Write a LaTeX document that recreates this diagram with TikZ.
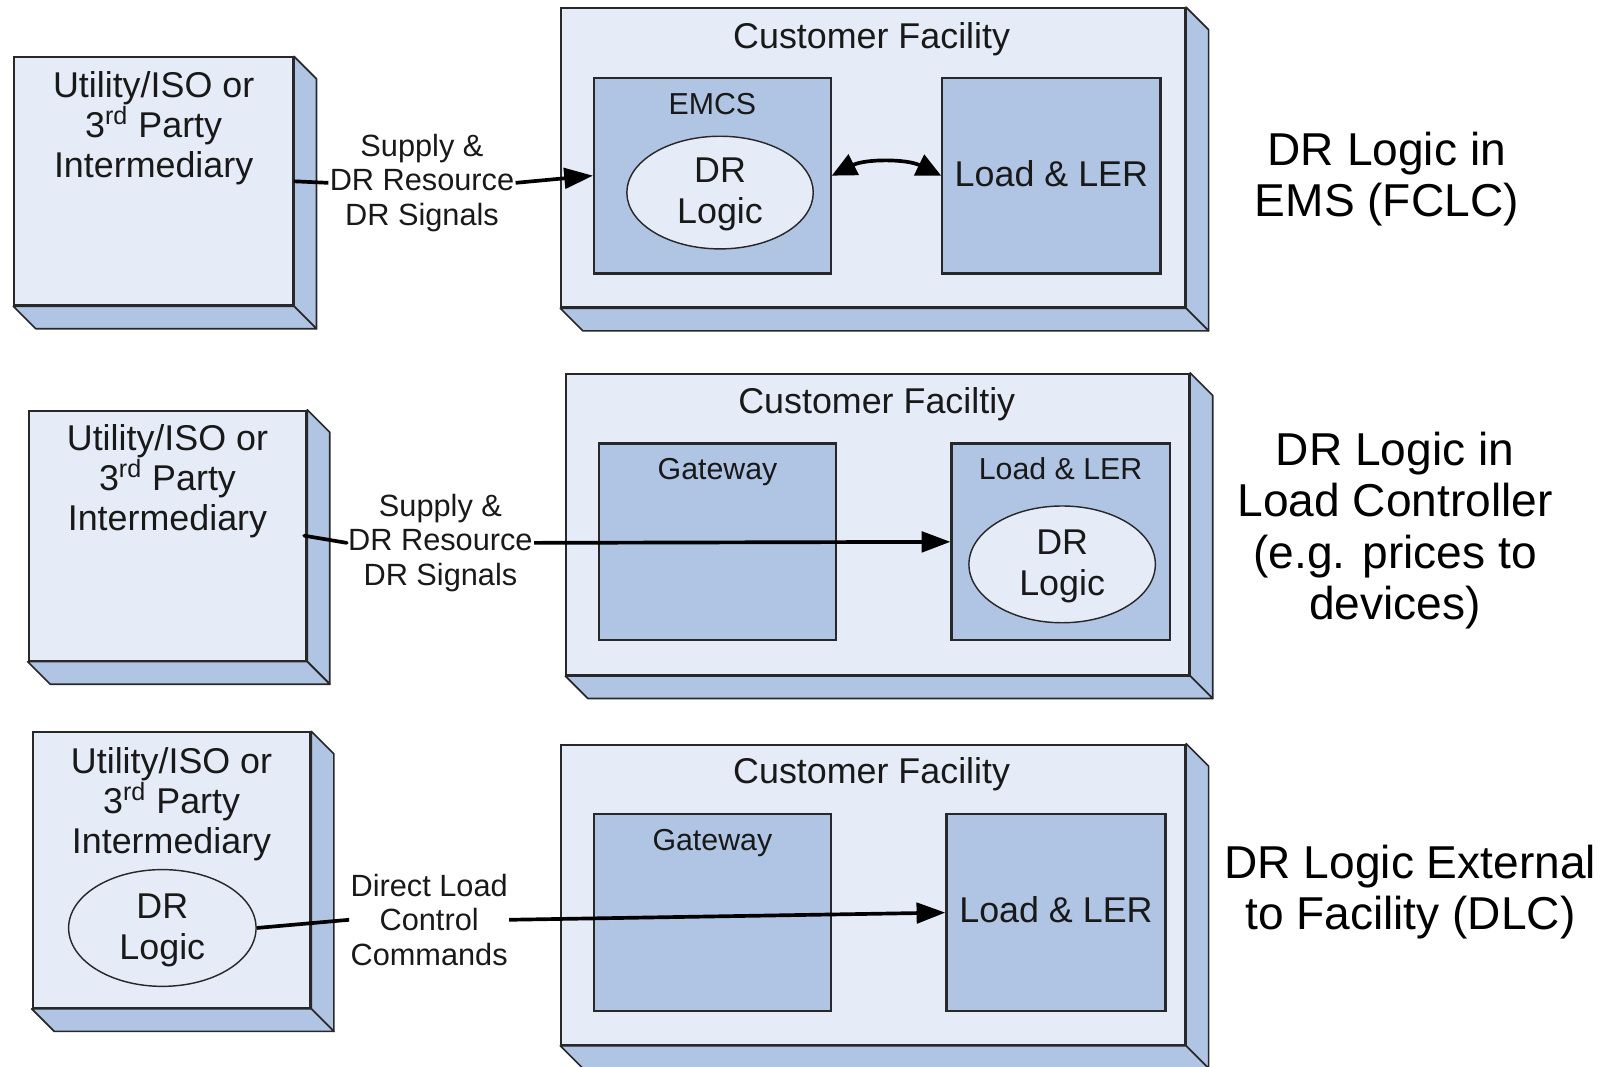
\documentclass[tikz,border=0pt]{standalone}
\usepackage{fontspec}
\setmainfont{Liberation Sans}
\usetikzlibrary{arrows.meta,fit,shapes.geometric}
\definecolor{facelight}{RGB}{230,236,247}
\definecolor{facedark}{RGB}{176,196,227}
\definecolor{edgecol}{RGB}{40,40,40}
\definecolor{txtcol}{RGB}{25,25,25}
\newcommand\drawdepth[1]{%
  \filldraw[depthface] (#1.north east) -- ++(22,22) -- ([shift={(22,22)}]#1.south east) -- (#1.south east) -- cycle;
  \filldraw[depthface] (#1.south west) -- ++(22,22) -- ([shift={(22,22)}]#1.south east) -- (#1.south east) -- cycle;}
\tikzset{
  frontbox/.style={draw=edgecol, line width=1pt, fill=facelight, inner sep=0pt},
  innerbox/.style={draw=edgecol, line width=1.1pt, fill=facedark, inner sep=0pt},
  depthface/.style={draw=edgecol, line width=0.8pt, fill=facedark, line join=round},
  logic/.style={ellipse, draw=edgecol, line width=0.7pt, fill=facelight, inner sep=0pt},
  utext/.style={font=\fontsize{17.5pt}{19.5pt}\selectfont, align=center, inner sep=0pt, text=txtcol},
  ttext/.style={font=\fontsize{17.5pt}{20pt}\selectfont, align=center, inner sep=0pt, text=txtcol},
  stext/.style={font=\fontsize{14.8pt}{17pt}\selectfont, align=center, inner sep=0pt, text=txtcol},
  ctext/.style={font=\fontsize{15pt}{16.8pt}\selectfont, align=center, inner sep=0.5pt, text=txtcol},
  rtext/.style={font=\fontsize{22.5pt}{25pt}\selectfont, align=center, inner sep=0pt, text=black},
  conn/.style={draw=black, line width=1.8pt},
  tip/.style={-{Triangle[length=14pt,width=10pt]}}
}
\begin{document}
\begin{tikzpicture}[x=0.5pt,y=-0.5pt]
\useasboundingbox (0,0) rectangle (1568,1041);
\fill[white] (0,0) rectangle (1568,1041);

% ---------- Row 1 ----------
\node[frontbox, fit={(14,56)(286,298)}] (u1) {};
\drawdepth{u1}
\node[utext] (u1t) at (150,125) {Utility/ISO or\\3\textsuperscript{rd} Party\\Intermediary};
\node[frontbox, fit={(548,8)(1157,300)}] (c1) {};
\drawdepth{c1}
\node[ttext] (c1t) at (851,38) {Customer Facility};
\node[innerbox, fit={(580,76)(811,267)}] (emcs) {};
\node[stext] (emcst) at (695.5,102) {EMCS};
\node[logic, minimum width=91pt, minimum height=55pt] (e1) at (703,188) {};
\node[ttext] (e1t) at (703,190) {DR\\Logic};
\node[innerbox, fit={(920,76)(1133,267)}] (ld1) {};
\node[ttext] (ld1t) at (1026.5,170) {Load \& LER};
\node[ctext] (l1) at (412,178.5) {Supply \&\\DR Resource\\DR Signals};
\draw[conn] (u1.east) -- (l1.west);
\draw[conn,tip] (l1.east) -- (emcs.west);
\draw[conn,{Triangle[length=12pt,width=11pt]}-{Triangle[length=12pt,width=11pt]}] (emcs.east) .. controls (845,155) and (885,155) .. (ld1.west);
\node[rtext] (r1) at (1354,175) {DR Logic in\\EMS (FCLC)};

% ---------- Row 2 ----------
\node[frontbox, fit={(28,401)(299,645)}] (u2) {};
\drawdepth{u2}
\node[utext] (u2t) at (163.5,470) {Utility/ISO or\\3\textsuperscript{rd} Party\\Intermediary};
\node[frontbox, fit={(553,365)(1161,659)}] (c2) {};
\drawdepth{c2}
\node[ttext] (c2t) at (856,395) {Customer Faciltiy};
\node[innerbox, fit={(585,433)(816,625)}] (gw2) {};
\node[stext] (gw2t) at (700.5,461) {Gateway};
\node[innerbox, fit={(929,433)(1142,625)}] (ld2) {};
\node[stext] (ld2t) at (1035.5,458) {Load \& LER};
\node[logic, minimum width=91pt, minimum height=57pt] (e2) at (1037,551) {};
\node[ttext] (e2t) at (1037,553) {DR\\Logic};
\node[ctext] (l2) at (430,530) {Supply \&\\DR Resource\\DR Signals};
\draw[conn, line cap=round] ([shift={(-3,0)}]u2.east) -- (l2.west);
\draw[conn,tip] (l2.east) -- (ld2.west);
\node[rtext] (r2) at (1362,518) {DR Logic in\\Load Controller\\(e.g. prices to\\devices)};

% ---------- Row 3 ----------
\node[frontbox, fit={(32,715)(303,984)}] (u3) {};
\drawdepth{u3}
\node[utext] (u3t) at (167.5,785) {Utility/ISO or\\3\textsuperscript{rd} Party\\Intermediary};
\node[logic, minimum width=91.5pt, minimum height=57pt] (e3) at (158.5,906) {};
\node[ttext] (e3t) at (158.5,908) {DR\\Logic};
\node[frontbox, fit={(548,727)(1157,1020)}] (c3) {};
\drawdepth{c3}
\node[ttext] (c3t) at (851,756) {Customer Facility};
\node[innerbox, fit={(580,795)(811,987)}] (gw3) {};
\node[stext] (gw3t) at (695.5,823) {Gateway};
\node[innerbox, fit={(924,795)(1138,987)}] (ld3) {};
\node[ttext] (ld3t) at (1031,888) {Load \& LER};
\node[ctext] (l3) at (419,898) {Direct Load\\Control\\Commands};
\draw[conn] (e3.east) -- (l3.west);
\draw[conn,tip] (l3.east) -- (ld3.west);
\node[rtext] (r3) at (1377,871) {DR Logic External\\to Facility (DLC)};
\end{tikzpicture}
\end{document}
